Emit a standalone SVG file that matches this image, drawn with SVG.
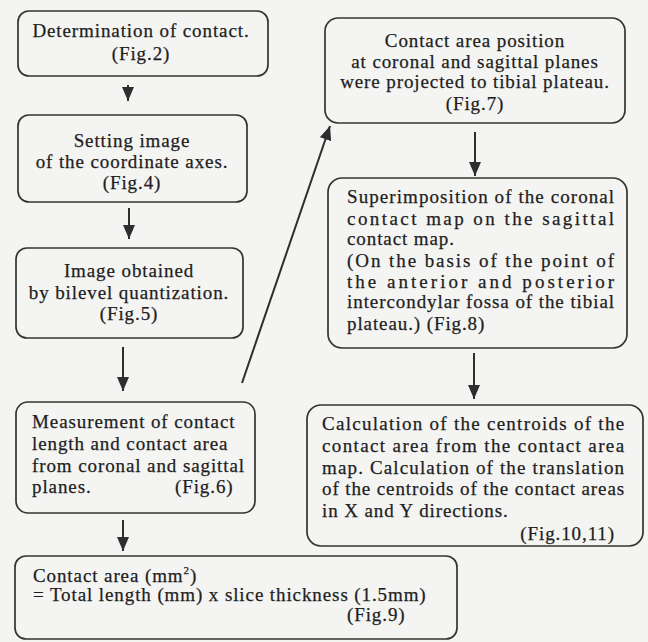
<svg xmlns="http://www.w3.org/2000/svg" width="648" height="642" viewBox="0 0 648 642">
<defs>
<style>
.box{fill:none;stroke:#333;stroke-width:1.7}
.t{font-family:"Liberation Serif","Times New Roman",serif;font-size:19px;letter-spacing:0.9px;fill:#1e1e1e;stroke:#1e1e1e;stroke-width:0.25}
.c{text-anchor:middle}
.conn line{stroke:#2e2e2e;stroke-width:2;marker-end:url(#ah)}
</style>
<marker id="ah" markerUnits="userSpaceOnUse" markerWidth="14" markerHeight="12" refX="14" refY="6" orient="auto">
<path d="M0,0 L14,6 L0,12 z" fill="#2e2e2e"/>
</marker>
</defs>
<rect width="648" height="642" fill="#f4f4f2"/>

<g id="n1">
<rect class="box" x="18" y="11" width="250" height="65" rx="11"/>
<text class="t c" x="141" y="37">Determination of contact.</text>
<text class="t c" x="141" y="60">(Fig.2)</text>
</g>

<g id="n2">
<rect class="box" x="18" y="115" width="229" height="87" rx="11"/>
<text class="t c" x="132" y="147">Setting image</text>
<text class="t c" x="132" y="168">of the coordinate axes.</text>
<text class="t c" x="132" y="189">(Fig.4)</text>
</g>

<g id="n3">
<rect class="box" x="16" y="248" width="227" height="90" rx="11"/>
<text class="t c" x="129" y="277">Image obtained</text>
<text class="t c" x="129" y="299">by bilevel quantization.</text>
<text class="t c" x="129" y="320">(Fig.5)</text>
</g>

<g id="n4">
<rect class="box" x="16" y="402" width="239" height="111" rx="12"/>
<text class="t" x="32" y="428">Measurement of contact</text>
<text class="t" x="32" y="450">length and contact area</text>
<text class="t" x="32" y="472">from coronal and sagittal</text>
<text class="t" x="32" y="493">planes.</text>
<text class="t" x="175" y="493">(Fig.6)</text>
</g>

<g id="n5">
<rect class="box" x="15" y="556" width="442" height="83" rx="11"/>
<text class="t" x="33" y="582">Contact area (mm<tspan font-size="11" dy="-8">2</tspan><tspan dy="8">)</tspan></text>
<text class="t" x="33" y="601">= Total length (mm) x slice thickness (1.5mm)</text>
<text class="t" x="347" y="621">(Fig.9)</text>
</g>

<g id="n6">
<rect class="box" x="325" y="18" width="300" height="105" rx="13"/>
<text class="t c" x="475" y="47">Contact area position</text>
<text class="t c" x="475" y="68">at coronal and sagittal planes</text>
<text class="t c" x="475" y="88">were projected to tibial plateau.</text>
<text class="t c" x="475" y="110">(Fig.7)</text>
</g>

<g id="n7">
<rect class="box" x="328" y="178" width="299" height="170" rx="14"/>
<text class="t" x="347" y="203" textLength="268" lengthAdjust="spacing">Superimposition of the coronal</text>
<text class="t" x="347" y="225" textLength="268" lengthAdjust="spacing">contact map on the sagittal</text>
<text class="t" x="347" y="245">contact map.</text>
<text class="t" x="347" y="267" textLength="268" lengthAdjust="spacing">(On the basis of the point of</text>
<text class="t" x="347" y="288" textLength="268" lengthAdjust="spacing">the anterior and posterior</text>
<text class="t" x="347" y="308" textLength="268" lengthAdjust="spacing">intercondylar fossa of the tibial</text>
<text class="t" x="347" y="330">plateau.) (Fig.8)</text>
</g>

<g id="n8">
<rect class="box" x="307" y="405" width="336" height="141" rx="14"/>
<text class="t" x="322" y="430" textLength="303" lengthAdjust="spacing">Calculation of the centroids of the</text>
<text class="t" x="322" y="452" textLength="303" lengthAdjust="spacing">contact area from the contact area</text>
<text class="t" x="322" y="474" textLength="303" lengthAdjust="spacing">map. Calculation of the translation</text>
<text class="t" x="322" y="495" textLength="303" lengthAdjust="spacing">of the centroids of the contact areas</text>
<text class="t" x="322" y="517">in X and Y directions.</text>
<text class="t" x="615" y="540" text-anchor="end">(Fig.10,11)</text>
</g>

<g id="connectors" class="conn">
<line x1="128" y1="85" x2="128" y2="101"/>
<line x1="129" y1="208" x2="129" y2="239"/>
<line x1="123" y1="347" x2="123" y2="391"/>
<line x1="123" y1="520" x2="123" y2="551"/>
<line x1="242" y1="383" x2="330" y2="126"/>
<line x1="475" y1="132" x2="475" y2="176"/>
<line x1="474" y1="353" x2="474" y2="399"/>
</g>
</svg>
